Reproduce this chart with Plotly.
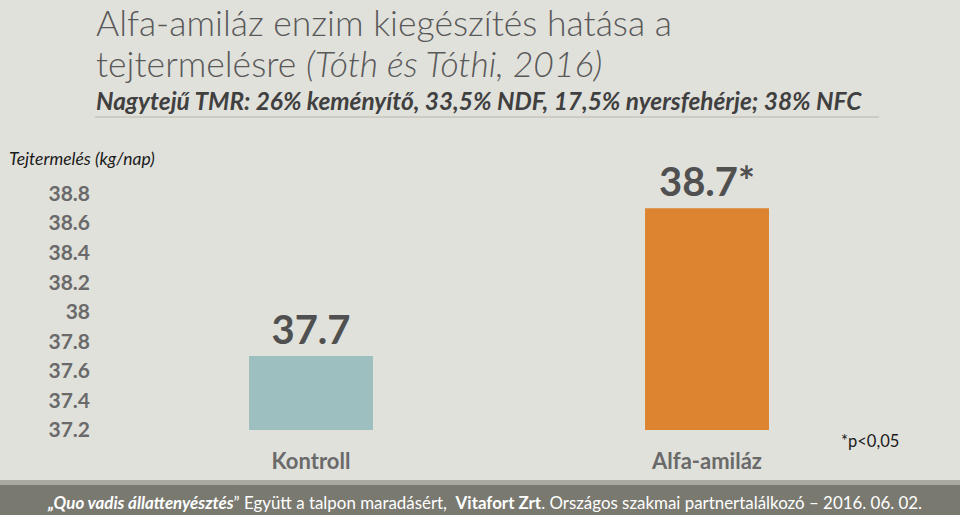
import plotly.graph_objects as go

categories = ["Kontroll", "Alfa-amiláz"]
values = [37.7, 38.7]
value_labels = ["37.7", "38.7*"]
bar_colors = ["#9DBFBF", "#DC8430"]
base_value = 37.2
tick_vals = [37.2, 37.4, 37.6, 37.8, 38.0, 38.2, 38.4, 38.6, 38.8]
tick_text = ["37.2", "37.4", "37.6", "37.8", "38", "38.2", "38.4", "38.6", "38.8"]

W, H = 960, 515
L, R, T, B = 113, 55, 164, 85
PW, PH = W - L - R, H - T - B

def px(x):
    return (x - L) / PW

def py(y):
    return (H - B - y) / PH

BG = "#E1E1DC"
FONT = "Lato"

fig = go.Figure()
fig.add_trace(go.Bar(
    x=categories,
    y=[v - base_value for v in values],
    base=base_value,
    marker=dict(color=bar_colors, line=dict(width=0)),
    text=value_labels,
    textposition="outside",
    constraintext="none",
    cliponaxis=False,
    textfont=dict(family=FONT, size=40, color="#505050", weight="bold"),
    hoverinfo="skip",
))

fig.update_layout(
    width=W, height=H,
    margin=dict(l=L, r=R, t=T, b=B),
    paper_bgcolor=BG, plot_bgcolor=BG,
    showlegend=False,
    bargap=0.687,
    xaxis=dict(
        range=[-0.5, 1.5], showgrid=False, zeroline=False, showline=False,
        tickfont=dict(family=FONT, size=22, color="#6A6A6A", weight="bold"),
        ticks="", ticklabelstandoff=16,
    ),
    yaxis=dict(
        range=[37.2, 39.0], showgrid=False, zeroline=False, showline=False,
        tickvals=tick_vals, ticktext=tick_text,
        tickfont=dict(family=FONT, size=21, color="#6A6A6A", weight="bold"),
        ticks="", ticklabelstandoff=22,
    ),
)

ann = []
ann.append(dict(x=px(94), y=py(22), xref="paper", yref="paper", xanchor="left", yanchor="middle",
                text="Alfa-amiláz enzim kiegészítés hatása a", showarrow=False,
                font=dict(family=FONT, size=35.5, color="#595959", weight=300)))
ann.append(dict(x=px(94), y=py(64), xref="paper", yref="paper", xanchor="left", yanchor="middle",
                text="tejtermelésre <i>(Tóth és Tóthi, 2016)</i>", showarrow=False,
                font=dict(family=FONT, size=35.5, color="#595959", weight=300)))
ann.append(dict(x=px(94), y=py(100), xref="paper", yref="paper", xanchor="left", yanchor="middle",
                text="<b><i>Nagytejű TMR: 26% keményítő, 33,5% NDF, 17,5% nyersfehérje; 38% NFC</i></b>",
                showarrow=False, font=dict(family=FONT, size=24.4, color="#404040")))
ann.append(dict(x=px(7), y=py(158), xref="paper", yref="paper", xanchor="left", yanchor="middle",
                text="<i>Tejtermelés (kg/nap)</i>", showarrow=False,
                font=dict(family=FONT, size=17.5, color="#1A1A1A")))
ann.append(dict(x=px(839), y=py(441), xref="paper", yref="paper", xanchor="left", yanchor="middle",
                text="*p<0,05", showarrow=False,
                font=dict(family=FONT, size=16.5, color="#1A1A1A")))
ann.append(dict(x=px(484), y=py(502), xref="paper", yref="paper", xanchor="center", yanchor="middle",
                text="<b><i>„Quo vadis állattenyésztés</i></b>” Együtt a talpon maradásért,  <b>Vitafort Zrt</b>. Országos szakmai partnertalálkozó – 2016. 06. 02.",
                showarrow=False, font=dict(family=FONT, size=16.9, color="#FFFFFF")))
fig.update_layout(annotations=ann)

shapes = [
    dict(type="line", xref="paper", yref="paper", x0=px(95), x1=px(879), y0=py(117), y1=py(117),
         line=dict(color="#C4C4BE", width=1.5)),
    dict(type="rect", xref="paper", yref="paper", x0=px(0), x1=px(960), y0=py(480), y1=py(485),
         fillcolor="#A9A9A2", line=dict(width=0), layer="below"),
    dict(type="rect", xref="paper", yref="paper", x0=px(0), x1=px(960), y0=py(485), y1=py(515),
         fillcolor="#797970", line=dict(width=0), layer="below"),
]
fig.update_layout(shapes=shapes)

fig.write_html("out.html", config={"displayModeBar": False},
               post_script="document.body.style.margin='0';document.body.style.overflow='hidden';")
